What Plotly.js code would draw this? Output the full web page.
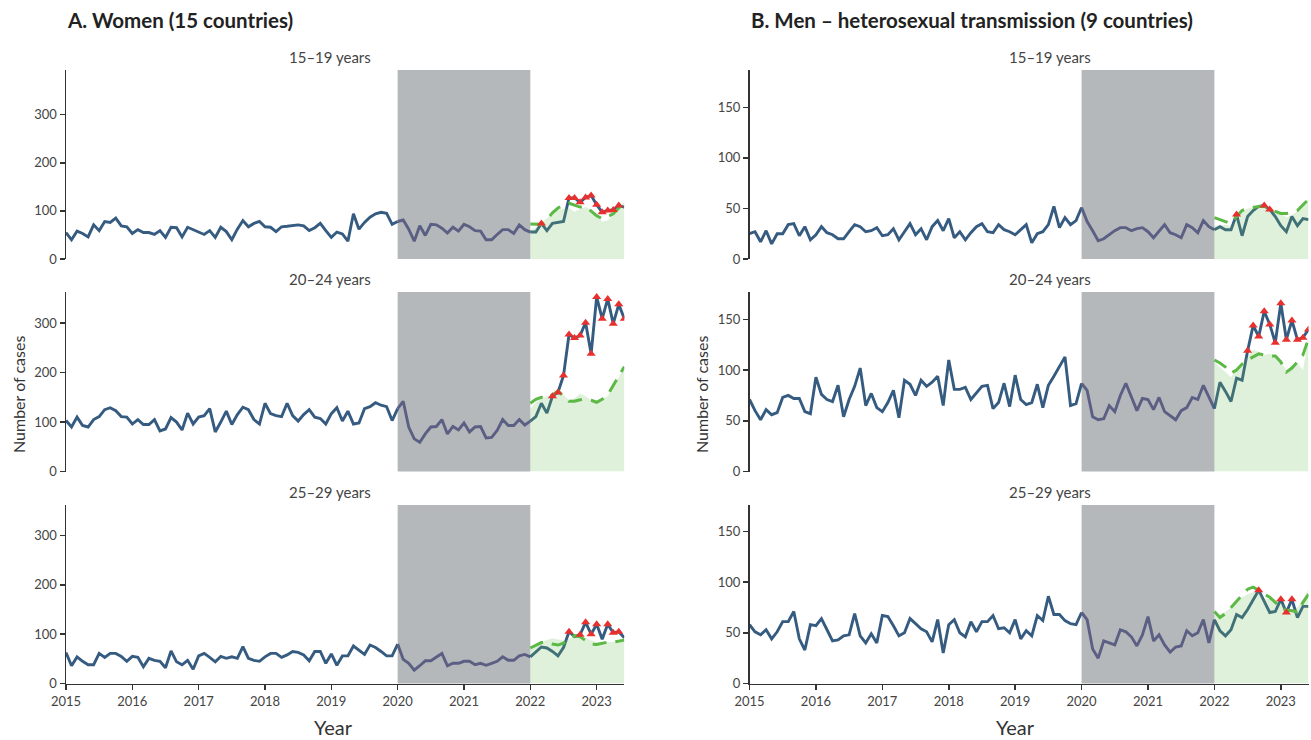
<!DOCTYPE html>
<html><head><meta charset="utf-8">
<script src="https://cdn.plot.ly/plotly-3.0.1.min.js"></script>
<style>html,body{margin:0;padding:0;background:#fff}#chart{width:1311px;height:740px}</style>
</head><body><div id="chart"></div>
<script>
// ---------- DATA ----------
const startYear = 2015;
const nMonths = 102; // Jan 2015 .. Jun 2023
const pandemicStart = 2020, pandemicEnd = 2022;
const yearTicks = [2015, 2016, 2017, 2018, 2019, 2020, 2021, 2022, 2023];
const panelTitles = ["A. Women (15 countries)", "B. Men \u2013 heterosexual transmission (9 countries)"];
const ageGroups = ["15\u201319 years", "20\u201324 years", "25\u201329 years"];
const yTicksWomen = [0, 100, 200, 300];
const yTicksMen = [0, 50, 100, 150];

// observed monthly cases
const women15_19 = [55,40,58,53,46,71,59,78,76,85,69,67,53,61,55,55,51,59,45,66,65,46,66,61,56,51,59,45,66,57,40,62,80,67,74,78,67,66,57,67,68,69,71,69,59,65,74,59,45,56,52,37,94,62,76,87,94,97,95,72,78,81,62,37,69,49,72,71,64,54,66,58,72,67,59,58,40,40,51,61,61,53,71,61,56,56,74,59,74,76,78,127,127,118,128,132,113,97,101,102,111,108];
const women20_24 = [103,90,110,93,90,105,111,125,129,123,111,110,96,105,95,95,105,82,86,109,100,84,118,96,110,113,127,80,100,122,95,115,130,125,105,96,138,117,113,111,138,113,102,115,125,110,107,96,117,129,102,122,96,98,127,131,139,134,131,103,127,142,90,66,59,76,90,91,105,76,91,84,98,80,90,91,68,69,83,105,93,93,105,94,102,111,138,118,152,160,194,277,270,275,301,238,353,309,349,299,338,309];
const women25_29 = [63,36,54,45,38,38,61,53,61,61,55,45,55,53,34,51,47,45,32,66,44,38,47,29,56,61,53,44,55,51,54,51,75,51,47,45,54,61,61,53,58,65,63,58,46,65,65,41,60,37,56,56,76,68,59,78,73,65,56,56,80,49,41,27,36,46,46,53,61,36,41,41,45,45,38,41,37,41,45,54,47,47,56,59,54,65,74,72,65,56,73,105,95,99,124,100,120,90,120,103,105,93];
const men15_19 = [25,27,17,28,15,25,25,34,35,23,32,19,24,32,26,24,20,20,27,34,32,27,28,31,23,24,30,19,27,35,24,30,19,32,38,28,40,21,27,19,26,32,35,27,26,34,29,27,24,29,34,16,25,27,34,52,31,41,34,38,51,37,28,18,20,24,28,31,31,28,30,31,27,21,28,34,26,24,21,34,31,26,38,32,29,32,29,29,44,23,42,48,52,53,49,42,33,27,42,33,40,39];
const men20_24 = [71,60,51,61,56,58,73,75,72,72,59,57,93,76,71,69,85,54,71,84,102,65,77,63,59,68,80,53,90,86,75,90,84,88,94,65,110,81,81,83,71,77,84,85,62,68,87,64,95,71,66,68,86,63,85,94,103,113,65,67,87,80,54,51,52,65,59,75,87,74,60,72,71,61,73,59,55,51,60,63,73,71,85,74,62,88,79,69,92,90,119,144,133,158,145,127,166,130,149,130,132,140];
const men25_29 = [58,51,48,53,44,51,61,61,71,44,33,58,57,64,53,42,43,47,48,69,47,40,49,40,67,66,57,47,50,64,59,54,51,41,63,30,58,63,50,46,61,51,61,61,67,54,55,50,63,44,52,47,67,62,86,68,68,62,59,58,70,63,34,25,42,40,38,53,51,46,37,48,66,42,48,38,31,36,37,52,47,50,63,40,63,52,47,53,68,65,73,83,92,81,70,71,83,70,83,65,76,76];

// prediction period (Jan 2022 .. Jun 2023): expected band top and threshold (dashed)
const predStartIndex = 84;
const women15_19Expected = [60,66,75,85,95,102,105,106,98,104,108,103,90,78,80,90,102,120];
const women15_19Threshold = [73,72,72,82,96,106,112,116,112,108,109,100,90,84,88,94,106,121];
const women20_24Expected = [127,140,148,152,157,160,155,144,148,157,152,144,144,147,152,170,190,214];
const women20_24Threshold = [138,146,150,148,155,163,152,142,142,145,146,144,140,146,155,175,195,212];
const women25_29Expected = [73,78,84,88,92,90,87,90,97,95,92,87,84,83,83,84,87,93];
const women25_29Threshold = [72,78,83,84,80,78,82,90,97,95,88,80,79,82,84,84,86,88];
const men15_19Expected = [33,33,34,33,40,47,50,51,52,52,51,48,45,41,44,47,53,58];
const men15_19Threshold = [41,39,37,35,42,48,50,51,52,52,50,47,45,45,46,48,54,59];
const men20_24Expected = [108,103,98,93,100,107,114,120,118,115,116,115,108,100,104,107,100,133];
const men20_24Threshold = [110,107,103,97,100,106,110,113,116,115,114,114,108,98,102,108,115,131];
const men25_29Expected = [68,68,71,75,80,85,88,90,91,84,83,83,80,75,73,75,83,93];
const men25_29Threshold = [71,65,69,75,82,88,93,95,92,88,85,80,75,72,72,70,80,88];

// months flagged as signals (red triangles)
const women15_19Signals = [86,91,92,93,94,95,96,97,98,99,100];
const women20_24Signals = [88,89,90,91,92,93,94,95,96,97,98,99,100,101];
const women25_29Signals = [91,93,94,95,96,98,99,100];
const men15_19Signals = [88,93,94];
const men20_24Signals = [90,91,92,93,94,95,96,97,98,99,100,101];
const men25_29Signals = [92,96,97,98];

// ---------- BUILD ----------
const monthX = Array.from({length: nMonths}, (_, i) => startYear + i / 12);
const idxPand0 = (pandemicStart - startYear) * 12;
const idxPand1 = (pandemicEnd - startYear) * 12;

const W = 1311, H = 740;
const px = v => v / W, py = v => 1 - v / H;
const colLeft = [66, 624.3], colRight = [749.5, 1308.5];
const facetLabelX = [330, 1050];
const rows = [[70, 259], [292, 471.5], [505, 683.5]];
const yTopWomen = [393, 363, 362];
const yTopMen = [187, 177, 176];

const panels = [
  {obs: women15_19, exp: women15_19Expected, thr: women15_19Threshold, sig: women15_19Signals, col: 0, row: 0},
  {obs: women20_24, exp: women20_24Expected, thr: women20_24Threshold, sig: women20_24Signals, col: 0, row: 1},
  {obs: women25_29, exp: women25_29Expected, thr: women25_29Threshold, sig: women25_29Signals, col: 0, row: 2},
  {obs: men15_19, exp: men15_19Expected, thr: men15_19Threshold, sig: men15_19Signals, col: 1, row: 0},
  {obs: men20_24, exp: men20_24Expected, thr: men20_24Threshold, sig: men20_24Signals, col: 1, row: 1},
  {obs: men25_29, exp: men25_29Expected, thr: men25_29Threshold, sig: men25_29Signals, col: 1, row: 2},
];

const FONT = 'Lato, "Open Sans", "DejaVu Sans", sans-serif';
const blue = '#355b80', pandBlue = '#5c5f84';
const traces = [], shapes = [], annotations = [];
const layout = {
  width: W, height: H, margin: {l: 0, r: 0, t: 0, b: 0},
  paper_bgcolor: '#fff', plot_bgcolor: 'rgba(0,0,0,0)',
  showlegend: false, font: {family: FONT, color: '#444'},
};

panels.forEach((p, k) => {
  const n = k === 0 ? '' : String(k + 1);
  const xa = 'x' + n, ya = 'y' + n;
  const dom = p.col === 0 ? colLeft : colRight;
  const r = rows[p.row];
  const yTop = p.col === 0 ? yTopWomen[p.row] : yTopMen[p.row];
  const bottom = p.row === 2;
  layout['xaxis' + n] = {
    domain: [px(dom[0]), px(dom[1])], anchor: ya,
    range: [monthX[0], monthX[nMonths - 1]],
    showgrid: false, zeroline: false,
    showline: bottom, linecolor: '#333', linewidth: 1.5,
    ticks: bottom ? 'outside' : '', ticklen: 5, tickcolor: '#333', tickwidth: 1.5,
    tickvals: yearTicks, ticktext: yearTicks.map(String),
    showticklabels: bottom, tickfont: {size: 13, color: '#444', family: FONT},
    fixedrange: true,
  };
  const yt = p.col === 0 ? yTicksWomen : yTicksMen;
  layout['yaxis' + n] = {
    domain: [py(r[1]), py(r[0])], anchor: xa,
    range: [0, yTop], showgrid: false, zeroline: false,
    showline: true, linecolor: '#333', linewidth: 1.5,
    ticks: 'outside', ticklen: 5, tickcolor: '#333', tickwidth: 1.5,
    tickvals: yt, ticktext: yt.map(String),
    tickfont: {size: 13, color: '#444', family: FONT}, fixedrange: true,
  };
  shapes.push({type: 'rect', xref: xa, yref: ya + ' domain', x0: pandemicStart, x1: pandemicEnd, y0: 0, y1: 1,
    fillcolor: '#b5b8ba', line: {width: 0}, layer: 'below'});

  const seg = (a, b) => ({x: monthX.slice(a, b + 1), y: p.obs.slice(a, b + 1)});
  const s1 = seg(0, idxPand0), s2 = seg(idxPand0, idxPand1), s3 = seg(idxPand1, nMonths - 1);
  traces.push({type: 'scatter', mode: 'lines', x: s1.x, y: s1.y, xaxis: xa, yaxis: ya,
    line: {color: blue, width: 2.9}, hoverinfo: 'skip'});
  traces.push({type: 'scatter', mode: 'lines', x: s2.x, y: s2.y, xaxis: xa, yaxis: ya,
    line: {color: pandBlue, width: 2.9}, hoverinfo: 'skip'});
  traces.push({type: 'scatter', mode: 'lines', x: s3.x, y: s3.y, xaxis: xa, yaxis: ya,
    line: {color: blue, width: 2.9}, hoverinfo: 'skip'});
  const px2 = monthX.slice(predStartIndex);
  traces.push({type: 'scatter', mode: 'lines', x: px2, y: p.exp, xaxis: xa, yaxis: ya,
    fill: 'tozeroy', fillcolor: 'rgba(110,190,90,0.22)', line: {width: 0, color: 'rgba(0,0,0,0)'}, hoverinfo: 'skip'});
  traces.push({type: 'scatter', mode: 'lines', x: px2, y: p.thr, xaxis: xa, yaxis: ya,
    line: {color: '#5cb946', width: 3, dash: '14px,9px'}, hoverinfo: 'skip'});
  traces.push({type: 'scatter', mode: 'markers', x: p.sig.map(i => monthX[i]), y: p.sig.map(i => p.obs[i]),
    xaxis: xa, yaxis: ya, marker: {symbol: 'triangle-up', size: 8, color: '#e8312f'}, hoverinfo: 'skip'});

  annotations.push({xref: 'paper', yref: 'paper', x: px(facetLabelX[p.col]), y: py(r[0] - 13),
    text: ageGroups[p.row], showarrow: false, xanchor: 'center', yanchor: 'middle',
    font: {size: 15, color: '#444', family: FONT}});
});

panelTitles.forEach((t, c) => {
  const dom = c === 0 ? colLeft : colRight;
  annotations.push({xref: 'paper', yref: 'paper', x: px(dom[0] - 1), y: py(20), text: '<b>' + t + '</b>',
    showarrow: false, xanchor: 'left', yanchor: 'middle', font: {size: 20.5, color: '#222', family: FONT}});
  annotations.push({xref: 'paper', yref: 'paper', x: px(c === 0 ? 18 : 701), y: py(395), text: 'Number of cases',
    textangle: -90, showarrow: false, xanchor: 'center', yanchor: 'middle', font: {size: 16, color: '#333', family: FONT}});
  annotations.push({xref: 'paper', yref: 'paper', x: px(c === 0 ? 333 : 1016), y: py(727), text: 'Year',
    showarrow: false, xanchor: 'center', yanchor: 'middle', font: {size: 20, color: '#333', family: FONT}});
});

layout.shapes = shapes;
layout.annotations = annotations;
Plotly.newPlot('chart', traces, layout, {staticPlot: true, displayModeBar: false});
</script>
</body></html>
